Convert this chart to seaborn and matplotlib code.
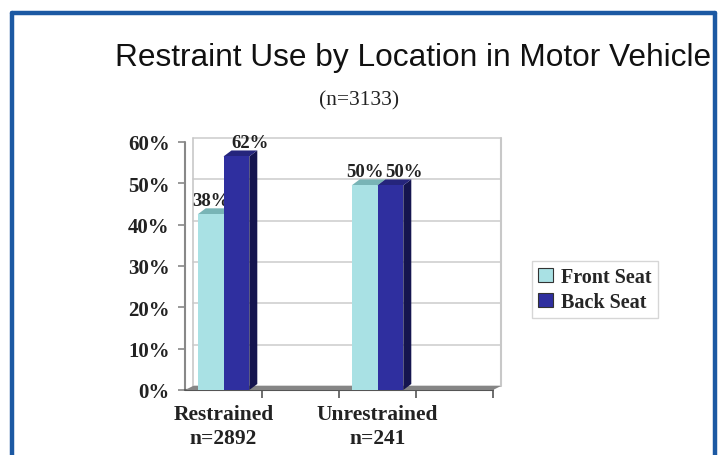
import matplotlib
matplotlib.use("Agg")
import matplotlib.pyplot as plt
import seaborn as sns
import pandas as pd
import numpy as np
from matplotlib.patches import Polygon, Rectangle, Patch
from matplotlib.lines import Line2D
from matplotlib.transforms import ScaledTranslation

# ---- data ----
categories = ["Restrained", "", "Unrestrained", " "]
category_labels = ["Restrained\nn=2892", "", "Unrestrained\nn=241", ""]
series = ["Front Seat", "Back Seat"]
front_seat = [42.5, 49.5]     # bar heights as drawn
back_seat = [56.5, 49.5]
front_labels = ["38%", "50%"]
back_labels = ["62%", "50%"]
data_categories = ["Restrained", "Unrestrained"]
yticks = [0, 10, 20, 30, 40, 50, 60]
ytick_labels = ["0%", "10%", "20%", "30%", "40%", "50%", "60%"]
title = "Restraint Use by Location in Motor Vehicle"
subtitle = "(n=3133)"

df = pd.DataFrame({
    "category": data_categories * 2,
    "seat": [series[0]] * 2 + [series[1]] * 2,
    "value": front_seat + back_seat,
})

W, H = 719, 456
DPI = 100
sns.set_style("white")
plt.rcParams["font.family"] = ["Liberation Serif", "DejaVu Serif"]

fig = plt.figure(figsize=(W / DPI, H / DPI), dpi=DPI)
fig.patch.set_facecolor("white")

def px(x, y):
    return x / W, 1 - y / H

# axes: front plane
x0, x1 = 185, 493
y0, y1 = 391, 143
ax = fig.add_axes([x0 / W, 1 - y0 / H, (x1 - x0) / W, (y0 - y1) / H])
ax.set_facecolor("none")

front_c = "#a9e1e4"
back_c = "#2f2f9f"
front_top = "#78b4b6"
back_top = "#25257c"
front_side = "#6aa2a5"
back_side = "#15154f"
BAR_W = 0.67

sns.barplot(data=df, x="category", y="value", hue="seat", order=categories,
            hue_order=series, palette=[front_c, back_c], width=BAR_W,
            ax=ax, legend=False, saturation=1, edgecolor="none", linewidth=0)

ax.set_xlim(-0.5, 3.5)
ax.set_ylim(0, 60)
for s in ax.spines.values():
    s.set_visible(False)
ax.set_xlabel("")
ax.set_ylabel("")

DX, DY = 8, 6  # depth in pixels
gt = ax.transData + ScaledTranslation(8 / DPI, 4 / DPI, fig.dpi_scale_trans)

# back wall gridlines
for v in yticks:
    ax.plot([-0.5, 3.5], [v, v], color="#d0d0d0", lw=1.2, transform=gt,
            zorder=0.5, clip_on=False)
ax.plot([-0.5, -0.5], [0, 60], color="#c8c8c8", lw=1.2, transform=gt, zorder=0.5, clip_on=False)
ax.plot([3.5, 3.5], [0, 60], color="#c8c8c8", lw=1.5, transform=gt, zorder=0.5, clip_on=False)

# floor
fl = np.array([ax.transData.transform((-0.5, 0)), ax.transData.transform((3.5, 0)),
               gt.transform((3.5, 0)), gt.transform((-0.5, 0))])
fig.patches.append(Polygon(fl, closed=True, transform=None, facecolor="#858585",
                           edgecolor="none", zorder=1))

# 3D faces for bars (bars come from seaborn's patches)
bars = [p for p in ax.patches if isinstance(p, Rectangle) and p.get_height() > 0]
for b in bars:
    fc = b.get_facecolor()
    is_back = fc[2] > 0.55 and fc[0] < 0.4
    z = 4 if is_back else 3
    xl, w, h = b.get_x(), b.get_width(), b.get_height()
    p0 = ax.transData.transform((xl, h))
    p1 = ax.transData.transform((xl + w, h))
    p2 = ax.transData.transform((xl + w, 0))
    pb = ax.transData.transform((xl, 0))
    top = np.array([p0, p1, p1 + [DX, DY], p0 + [DX, DY]])
    side = np.array([p2, p1, p1 + [DX, DY], p2 + [DX, DY]])
    tc = back_top if is_back else front_top
    sc = back_side if is_back else front_side
    fig.patches.append(Polygon(side, transform=None, facecolor=sc, edgecolor="none", zorder=z))
    fig.patches.append(Polygon(top, transform=None, facecolor=tc, edgecolor="none", zorder=z))
    fig.patches.append(Rectangle(pb, p1[0] - pb[0], p1[1] - pb[1], transform=None,
                                 facecolor=fc, edgecolor="none", zorder=z + 0.5))
    b.set_visible(False)
fig.patches.sort(key=lambda p: p.get_zorder())

# bar value labels
cat_pos = {c: i for i, c in enumerate(categories)}
for j, cat in enumerate(data_categories):
    c = cat_pos[cat]
    for k, (vals, labs) in enumerate([(front_seat, front_labels), (back_seat, back_labels)]):
        xc = c - BAR_W / 4 + k * BAR_W / 2
        ax.annotate(labs[j], (xc, vals[j]), xytext=(k * 10, 4), textcoords="offset points",
                    ha="center", va="bottom", fontsize=13.5, fontweight="bold",
                    color="#222222", zorder=6, clip_on=False)

# axes lines
ax.plot([-0.5, -0.5], [0, 60], color="#888888", lw=1.5, clip_on=False, zorder=5)
ax.plot([-0.5, 3.5], [0, 0], color="#555555", lw=1.5, clip_on=False, zorder=5)

ax.set_yticks(yticks)
ax.set_yticklabels(ytick_labels, fontsize=15, fontweight="bold", color="#222222")
ax.set_xticks(range(len(categories)))
ax.set_xticklabels(category_labels, fontsize=15.5, fontweight="bold", color="#222222",
                   linespacing=1.3)
ax.set_xticks([0.5, 1.5, 2.5, 3.5], minor=True)
ax.tick_params(axis="y", length=5, width=1.2, color="#888888", pad=6, left=True)
ax.tick_params(axis="x", which="major", length=0, pad=10)
ax.tick_params(axis="x", which="minor", length=6, width=1.2, color="#555555", bottom=True)

# legend
handles = [Patch(facecolor=front_c, edgecolor="#333333", lw=0.8),
           Patch(facecolor=back_c, edgecolor="#333333", lw=0.8)]
leg = fig.legend(handles, series, loc="upper left", bbox_to_anchor=px(532, 262),
                 prop={"family": "Liberation Serif", "weight": "bold", "size": 14.5},
                 frameon=True, fancybox=False, edgecolor="#cccccc", handlelength=0.75,
                 handleheight=0.75, handletextpad=0.4, borderpad=0.3, labelspacing=0.25,
                 borderaxespad=0)
leg.get_frame().set_linewidth(1.0)

# titles
fig.text(*px(115, 58), title, fontsize=22.8, family="Liberation Sans", ha="left",
         va="center", color="#111111")
fig.text(*px(359, 101), subtitle, fontsize=15.5, family="Liberation Serif", ha="center",
         va="center", color="#222222")

# blue border
bc = "#1c59a3"
for seg in [[(12, 460), (12, 14)], [(12, 14), (715, 14)], [(715, 14), (715, 460)]]:
    xs = [s[0] / W for s in seg]
    ys = [1 - s[1] / H for s in seg]
    fig.add_artist(Line2D(xs, ys, color=bc, lw=3.2, transform=fig.transFigure, zorder=10))

fig.savefig("out.png", dpi=DPI)
